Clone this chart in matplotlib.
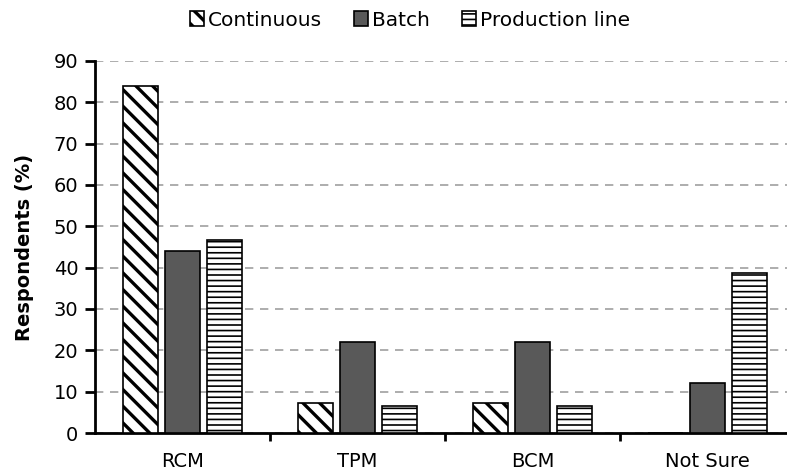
import numpy as np
import matplotlib
matplotlib.use("Agg")
import matplotlib.pyplot as plt

# data
categories = ['RCM', 'TPM', 'BCM', 'Not Sure']
series = ['Continuous', 'Batch', 'Production line']
continuous = [84, 7.3, 7.3, 0]
batch = [44, 22, 22, 12]
production = [46.7, 6.5, 6.5, 38.7]
y_ticks = [0, 10, 20, 30, 40, 50, 60, 70, 80, 90]

plt.rcParams['font.family'] = ['DejaVu Sans']
plt.rcParams['hatch.linewidth'] = 2.4

fig = plt.figure(figsize=(7.87, 4.73), dpi=100)
# axes run slightly off the right edge, as in the original
ax = fig.add_axes([95/787, (473-433)/473, 700/787, 372/473])

x = np.arange(len(categories))
w = 0.205
pitch = 0.24

#三组柱子
b1 = ax.bar(x - pitch, continuous, w, color='white', edgecolor='black', hatch='\\\\', lw=1.2, label=series[0], zorder=3)
b2 = ax.bar(x, batch, w, color='#595959', edgecolor='black', lw=1.2, label=series[1], zorder=3)
b3 = ax.bar(x + pitch, production, w, color='white', edgecolor='black', hatch='---', lw=1.2, label=series[2], zorder=3)
for p in b3:
    if hasattr(p, 'set_hatch_linewidth'):
        p.set_hatch_linewidth(1.2)

ax.set_xlim(-0.5, 3.5)
ax.set_ylim(0, 90)
ax.set_yticks(y_ticks)
ax.set_xticks(x)
ax.set_xticklabels(categories)
ax.set_xticks(np.arange(0.5, 3.5, 1), minor=True)
ax.tick_params(axis='x', which='major', length=0, labelsize=14, pad=14)
ax.tick_params(axis='x', which='minor', length=6, width=2, direction='out')
ax.tick_params(axis='y', labelsize=14, length=7, width=2, direction='out', pad=5)

ax.yaxis.grid(True, linestyle=(0, (5, 4)), color='#a0a0a0', lw=1.2, zorder=0)
ax.set_axisbelow(True)

for s in ['top', 'right']:
    ax.spines[s].set_visible(False)
for s in ['left', 'bottom']:
    ax.spines[s].set_linewidth(2)

ax.set_ylabel('Respondents (%)', fontsize=14, fontweight='bold', labelpad=14)

leg = ax.legend(loc='center', bbox_to_anchor=(0.45, 1.11), ncol=3, frameon=False,
                fontsize=14.5, handlelength=0.7, handleheight=0.7, handletextpad=0.2,
                columnspacing=1.6, borderaxespad=0)
for h in leg.legend_handles[2:]:
    if hasattr(h, 'set_hatch_linewidth'):
        h.set_hatch_linewidth(1.2)

fig.savefig('out.png', dpi=100)
